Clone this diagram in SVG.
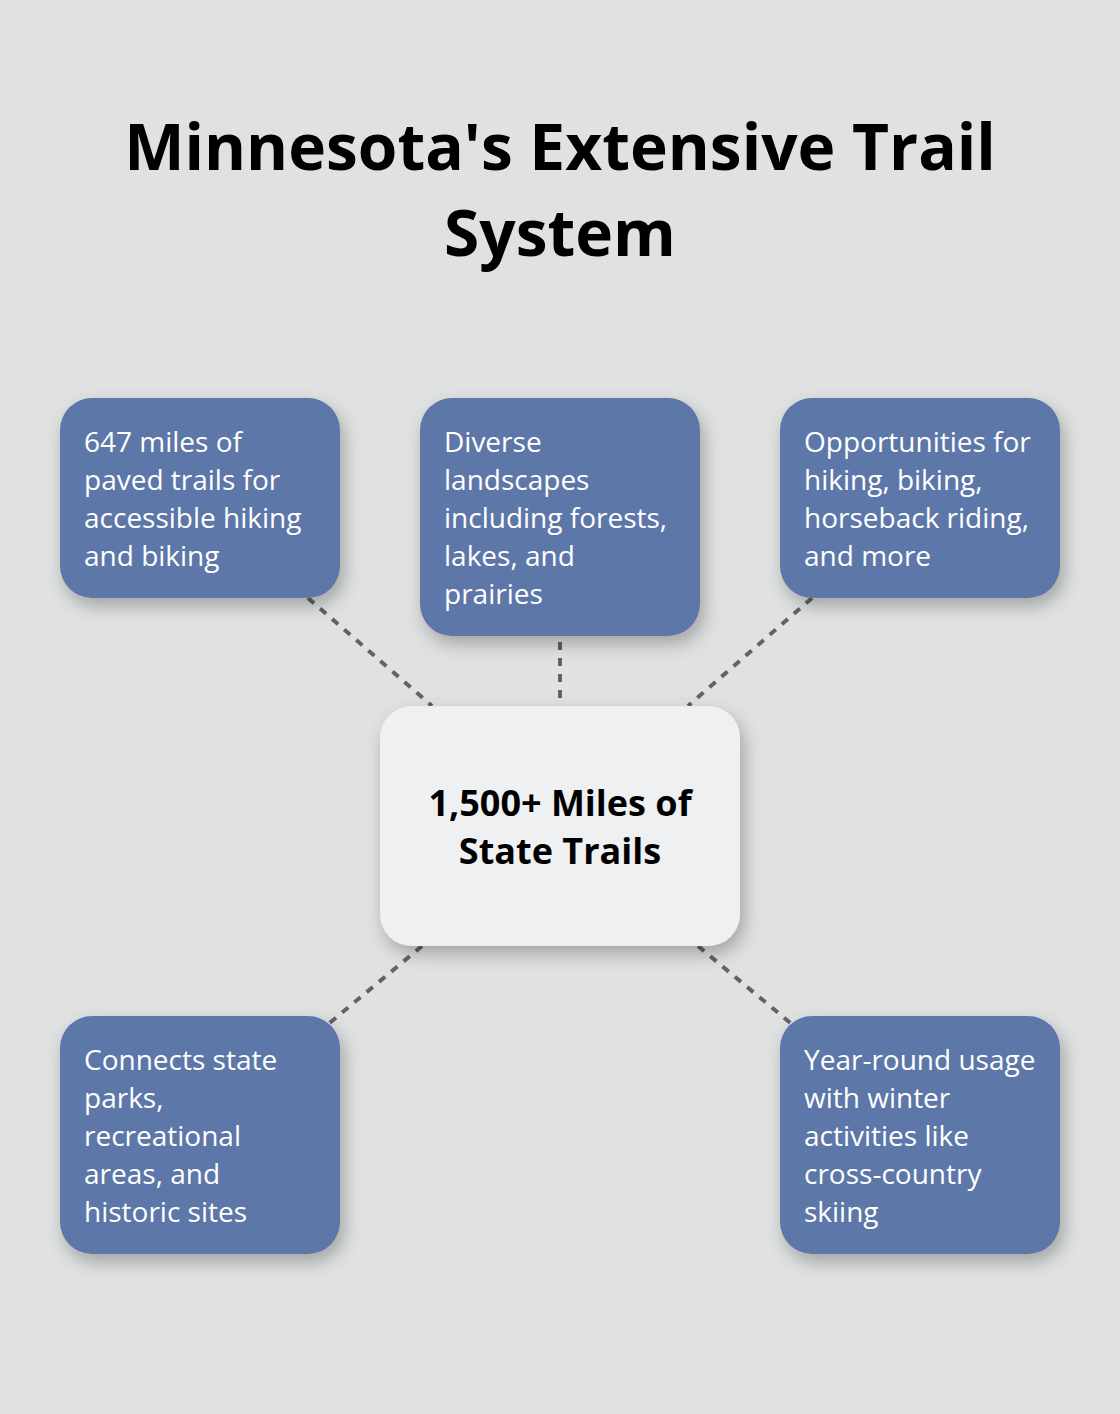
<svg xmlns="http://www.w3.org/2000/svg" width="1120" height="1414" viewBox="0 0 1120 1414">
<defs>
<filter id="sh" x="-20%" y="-20%" width="140%" height="150%">
<feDropShadow dx="4" dy="8" stdDeviation="9" flood-color="#000" flood-opacity="0.28"/>
</filter>
</defs>
<style>
.bg{fill:#e0e2e1}
.box{fill:#5d77a9;filter:url(#sh)}
.center{fill:#eff0f1;filter:url(#sh)}
.t{font-family:"Open Sans","Noto Sans",sans-serif;font-size:28px;fill:#ffffff}
.title{font-family:"Open Sans","Noto Sans",sans-serif;font-size:64px;font-weight:700;fill:#000;text-anchor:middle}
.ct{font-family:"Open Sans","Noto Sans",sans-serif;font-size:36px;font-weight:700;fill:#000;text-anchor:middle}
.conn line{stroke:#636363;stroke-width:4;stroke-dasharray:8 8;fill:none}
</style>
<rect class="bg" x="0" y="0" width="1120" height="1414"/>
<g id="title">
<text class="title" x="560" y="170">Minnesota's Extensive Trail</text>
<text class="title" x="560" y="256">System</text>
</g>
<g id="connectors" class="conn">
<line x1="308" y1="598" x2="432" y2="706"/>
<line x1="560" y1="642" x2="560" y2="700"/>
<line x1="812" y1="598" x2="688" y2="706"/>
<line x1="422" y1="946" x2="326" y2="1026"/>
<line x1="698" y1="946" x2="794" y2="1026"/>
</g>
<g id="node1">
<rect class="box" x="60" y="398" width="280" height="200" rx="32"/>
<text class="t" x="84" y="452">647 miles of</text>
<text class="t" x="84" y="490">paved trails for</text>
<text class="t" x="84" y="528">accessible hiking</text>
<text class="t" x="84" y="566">and biking</text>
</g>
<g id="node2">
<rect class="box" x="420" y="398" width="280" height="238" rx="32"/>
<text class="t" x="444" y="452">Diverse</text>
<text class="t" x="444" y="490">landscapes</text>
<text class="t" x="444" y="528">including forests,</text>
<text class="t" x="444" y="566">lakes, and</text>
<text class="t" x="444" y="604">prairies</text>
</g>
<g id="node3">
<rect class="box" x="780" y="398" width="280" height="200" rx="32"/>
<text class="t" x="804" y="452">Opportunities for</text>
<text class="t" x="804" y="490">hiking, biking,</text>
<text class="t" x="804" y="528">horseback riding,</text>
<text class="t" x="804" y="566">and more</text>
</g>
<g id="center">
<rect class="center" x="380" y="706" width="360" height="240" rx="32"/>
<text class="ct" x="560" y="816">1,500+ Miles of</text>
<text class="ct" x="560" y="864">State Trails</text>
</g>
<g id="node4">
<rect class="box" x="60" y="1016" width="280" height="238" rx="32"/>
<text class="t" x="84" y="1070">Connects state</text>
<text class="t" x="84" y="1108">parks,</text>
<text class="t" x="84" y="1146">recreational</text>
<text class="t" x="84" y="1184">areas, and</text>
<text class="t" x="84" y="1222">historic sites</text>
</g>
<g id="node5">
<rect class="box" x="780" y="1016" width="280" height="238" rx="32"/>
<text class="t" x="804" y="1070">Year-round usage</text>
<text class="t" x="804" y="1108">with winter</text>
<text class="t" x="804" y="1146">activities like</text>
<text class="t" x="804" y="1184">cross-country</text>
<text class="t" x="804" y="1222">skiing</text>
</g>
</svg>
